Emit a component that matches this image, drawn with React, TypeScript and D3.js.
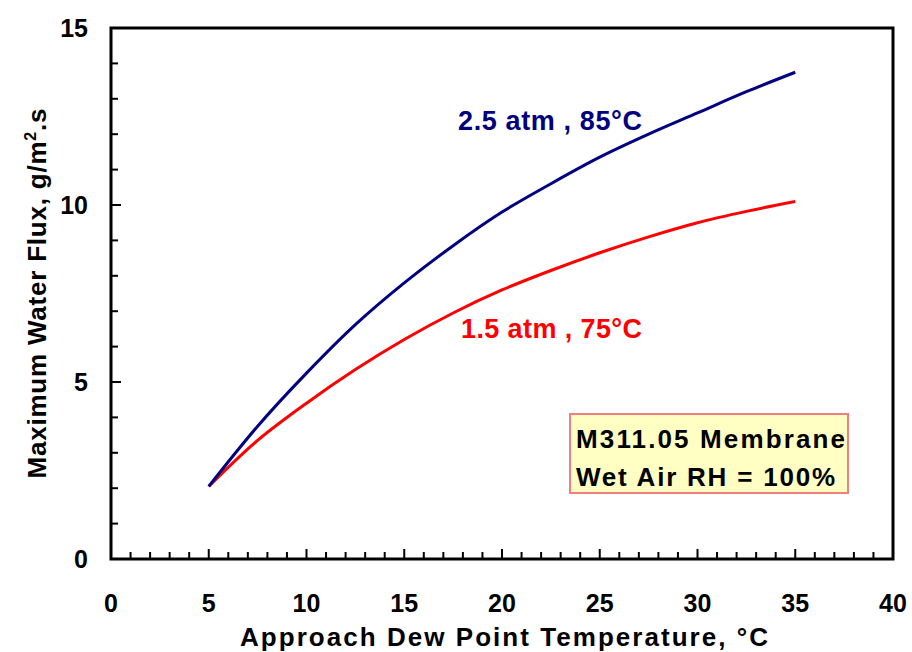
import * as d3 from 'd3'

// approach dew point temperature, °C
const temps = [5, 7.5, 10, 12.5, 15, 17.5, 20, 22.5, 25, 27.5, 30, 32.5, 35]
// max water flux, g/m2.s
const flux25atm = [2.05, 3.75, 5.25, 6.62, 7.8, 8.85, 9.8, 10.6, 11.35, 12.0, 12.6, 13.2, 13.75]
const flux15atm = [2.05, 3.35, 4.4, 5.35, 6.2, 6.95, 7.6, 8.15, 8.65, 9.1, 9.5, 9.82, 10.1]

const xTicks = [0, 5, 10, 15, 20, 25, 30, 35, 40]
const yTicks = [0, 5, 10, 15]
const seriesLabels = ['2.5 atm , 85°C', '1.5 atm , 75°C']
const noteLines = ['M311.05 Membrane', 'Wet Air RH = 100%']

const W = 912
const H = 652
const font = 'Liberation Sans, Arial, sans-serif'

export default function App() {
  const x = d3.scaleLinear().domain([0, 40]).range([111, 893])
  const y = d3.scaleLinear().domain([0, 15]).range([559, 28])

  const line = d3
    .line<number>()
    .x((d, i) => x(temps[i]))
    .y((d) => y(d))
    .curve(d3.curveCatmullRom.alpha(0.5))

  const xMinor = d3.range(1, 40)
  const yMinor = d3.range(1, 15)

  return (
    <svg width={W} height={H} style={{ position: 'absolute', left: 0, top: 0 }}>
      <rect width={W} height={H} fill="#fff" />

      {/* ticks point inward, longer at the labelled ones */}
      {xMinor.map((t) => (
        <line key={'xt' + t} x1={x(t)} x2={x(t)} y1={y(0)} y2={y(0) - (t % 5 === 0 ? 10 : 7)} stroke="#000" strokeWidth={2} />
      ))}
      {yMinor.map((t) => (
        <line key={'yt' + t} x1={x(0)} x2={x(0) + (t % 5 === 0 ? 10 : 7)} y1={y(t)} y2={y(t)} stroke="#000" strokeWidth={2} />
      ))}

      <rect x={x(0)} y={y(15)} width={x(40) - x(0)} height={y(0) - y(15)} fill="none" stroke="#000" strokeWidth={3} />

      {xTicks.map((t) => (
        <text key={'xl' + t} x={x(t)} y={612} textAnchor="middle" fontFamily={font} fontWeight="bold" fontSize={25}>
          {t}
        </text>
      ))}
      {yTicks.map((t) => (
        <text key={'yl' + t} x={88} y={y(t) + 9} textAnchor="end" fontFamily={font} fontWeight="bold" fontSize={25}>
          {t}
        </text>
      ))}

      <text x={504} y={646} textAnchor="middle" fontFamily={font} fontWeight="bold" fontSize={26} textLength={528} lengthAdjust="spacing">
        Approach Dew Point Temperature, °C
      </text>
      <text transform={`translate(46,${(y(0) + y(15)) / 2}) rotate(-90)`} textAnchor="middle" fontFamily={font} fontWeight="bold" fontSize={26} textLength={370} lengthAdjust="spacing">
        Maximum Water Flux, g/m<tspan dy={-10} fontSize={16}>2</tspan><tspan dy={10}>.s</tspan>
      </text>

      <path d={line(flux15atm) || ''} fill="none" stroke="#ff0000" strokeWidth={3} />
      <path d={line(flux25atm) || ''} fill="none" stroke="#000080" strokeWidth={3} />

      <text x={458} y={130} fontFamily={font} fontWeight="bold" fontSize={27} fill="#000080" textLength={184} lengthAdjust="spacing">
        {seriesLabels[0]}
      </text>
      <text x={461} y={338} fontFamily={font} fontWeight="bold" fontSize={27} fill="#ff0000" textLength={181} lengthAdjust="spacing">
        {seriesLabels[1]}
      </text>

      <rect x={570} y={414} width={278} height={79} fill="#ffffc4" stroke="#f08080" strokeWidth={2} />
      {noteLines.map((s, i) => (
        <text key={s} x={576} y={448 + i * 38} fontFamily={font} fontWeight="bold" fontSize={26} fill="#000" textLength={i === 0 ? 269 : 259} lengthAdjust="spacing">
          {s}
        </text>
      ))}
    </svg>
  )
}
